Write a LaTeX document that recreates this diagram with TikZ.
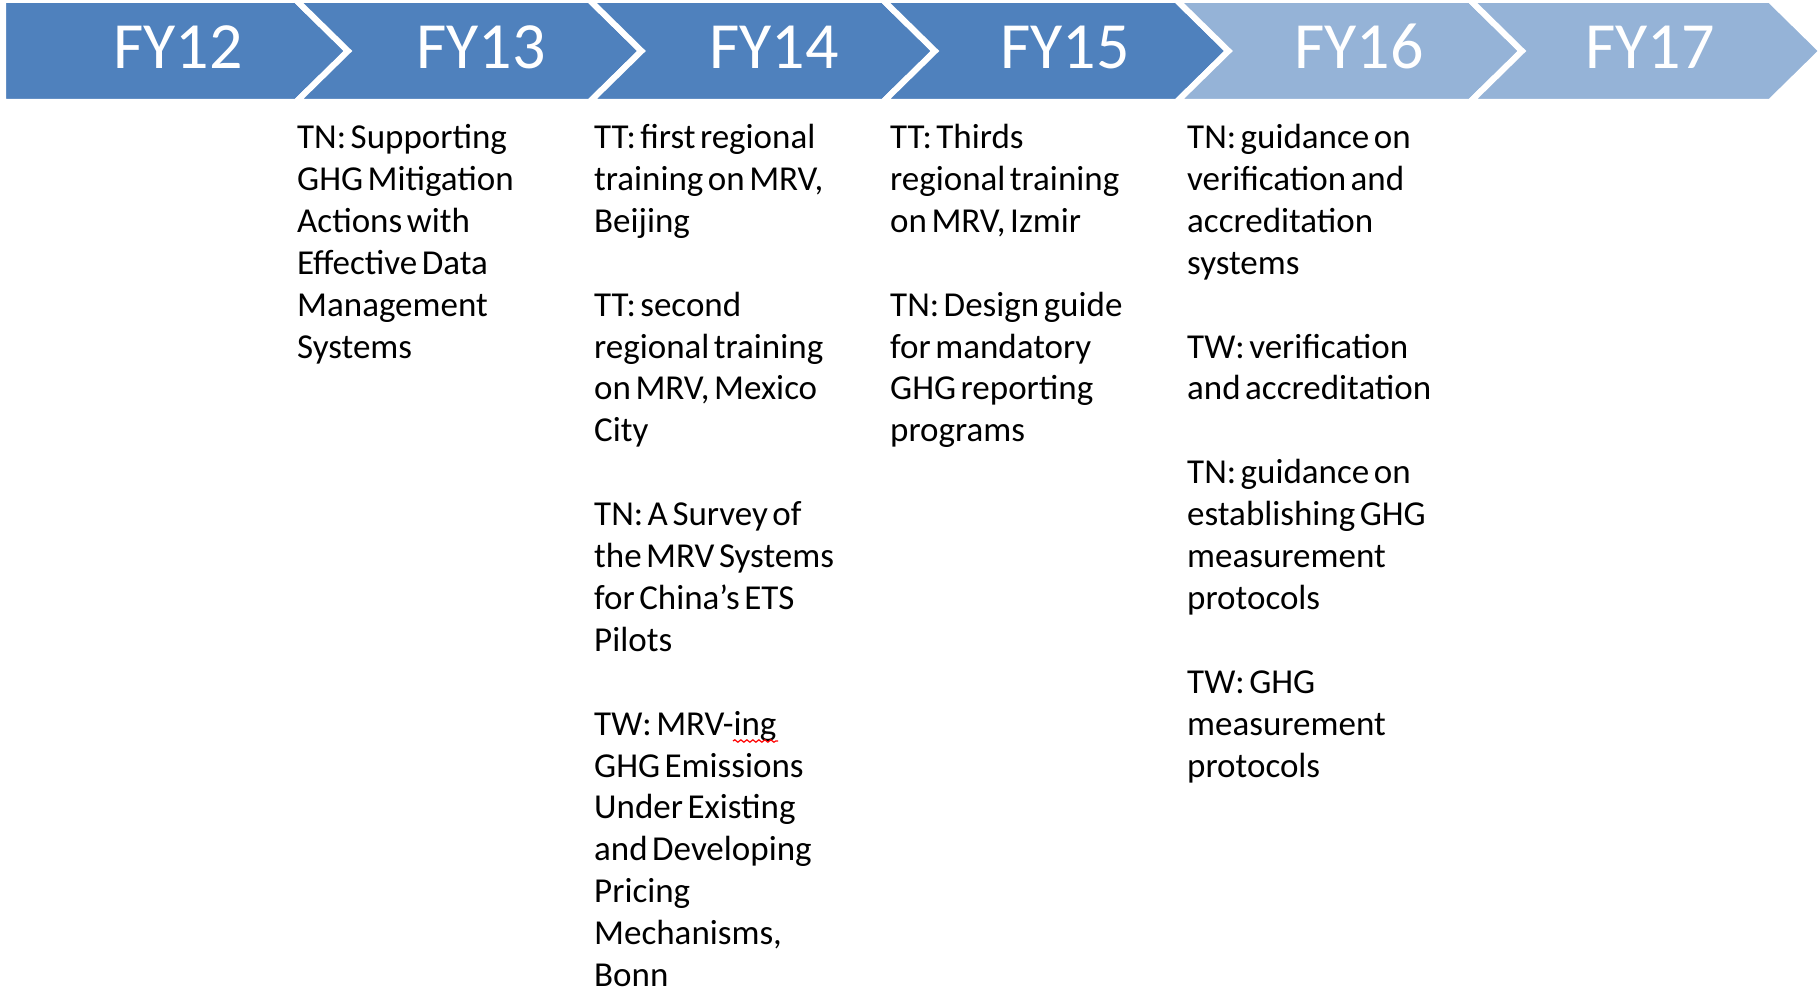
\documentclass[tikz,border=0pt]{standalone}
\usepackage{fontspec}
\setmainfont{Carlito}
\usepackage{tikz}
\usetikzlibrary{decorations.pathmorphing}
\definecolor{FYdark}{RGB}{79,129,189}
\definecolor{FYlight}{RGB}{149,179,215}
\newcommand{\chevron}[3]{\filldraw[#3,draw=white,line width=6pt] (#1,0)--(#2,0)--++(52,51)--(#2,102)--(#1,102)--++(52,-51)--cycle;}
\newcommand{\yearlabel}[3]{\node[year] (#1) at (#2,69) {#3};}
\newcommand{\entry}[4]{\node[entry] (#1) at (#2,{119+41.9*#3}) {\spaceskip=4.5pt plus 1pt\relax\strut #4};}
\tikzset{
  year/.style={anchor=base,text=white,inner sep=0pt,font=\fontsize{66}{70}\selectfont},
  entry/.style={anchor=north west,inner sep=0pt,align=left,text width=290pt,
    font=\fontsize{35}{41.9}\selectfont}
}

\begin{document}
\begin{tikzpicture}[x=1pt,y=-1pt]
\useasboundingbox (0,0) rectangle (1818,992);
% year bar
\filldraw[FYdark,draw=white,line width=6pt] (3,0)--(296,0)--++(52,51)--(296,102)--(3,102)--cycle;
\chevron{296}{589.5}{FYdark}
\chevron{589.5}{883}{FYdark}
\chevron{883}{1176.5}{FYdark}
\chevron{1176.5}{1470}{FYlight}
\chevron{1470}{1770}{FYlight}
\yearlabel{fy12}{178}{FY12}\yearlabel{fy13}{481}{FY13}\yearlabel{fy14}{774}{FY14}
\yearlabel{fy15}{1065}{FY15}\yearlabel{fy16}{1359}{FY16}\yearlabel{fy17}{1650}{FY17}
% FY13
\entry{tnsupport}{297}{0}{TN: Supporting\\GHG Mitigation\\Actions with\\Effective Data\\Management\\Systems}
% FY14
\entry{ttfirst}{594}{0}{TT: first regional\\training on MRV,\\Beijing}
\entry{ttsecond}{594}{4}{TT: second\\regional training\\on MRV, Mexico\\City}
\entry{tnsurvey}{594}{9}{TN: A Survey of\\the MRV Systems\\for China’s ETS\\Pilots}
\entry{twmrving}{594}{14}{TW: MRV-ing\\GHG Emissions\\Under Existing\\and Developing\\Pricing\\Mechanisms,\\Bonn}
\draw[red,line width=1.2pt,decorate,decoration={snake,amplitude=1.2pt,segment length=6pt}] (733,741)--(778,741);
% FY15
\entry{ttthirds}{890}{0}{TT: Thirds\\regional training\\on MRV, Izmir}
\entry{tndesign}{890}{4}{TN: Design guide\\for mandatory\\GHG reporting\\programs}
% FY16
\entry{tnverif}{1187}{0}{TN: guidance on\\verification and\\accreditation\\systems}
\entry{twverif}{1187}{5}{TW: verification\\and accreditation}
\entry{tnmeasure}{1187}{8}{TN: guidance on\\establishing GHG\\measurement\\protocols}
\entry{twmeasure}{1187}{13}{TW: GHG\\measurement\\protocols}
\end{tikzpicture}
\end{document}
